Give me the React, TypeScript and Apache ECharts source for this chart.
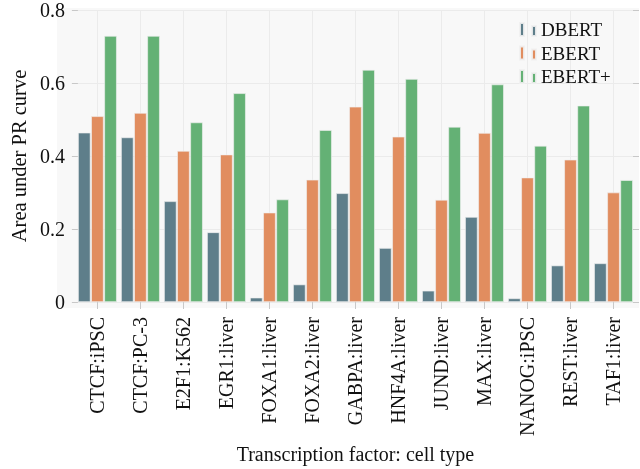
import React, { useEffect, useRef } from "react";
import * as echarts from "echarts";

const categories = [
  "CTCF:iPSC", "CTCF:PC-3", "E2F1:K562", "EGR1:liver", "FOXA1:liver", "FOXA2:liver",
  "GABPA:liver", "HNF4A:liver", "JUND:liver", "MAX:liver", "NANOG:iPSC", "REST:liver", "TAF1:liver",
];
const dbert = [0.464, 0.451, 0.276, 0.191, 0.012, 0.048, 0.298, 0.148, 0.031, 0.233, 0.010, 0.100, 0.106];
const ebert = [0.509, 0.518, 0.414, 0.404, 0.245, 0.335, 0.535, 0.453, 0.280, 0.463, 0.341, 0.390, 0.300];
const ebertPlus = [0.729, 0.729, 0.492, 0.572, 0.281, 0.471, 0.636, 0.611, 0.480, 0.596, 0.428, 0.538, 0.334];
const seriesNames = ["DBERT", "EBERT", "EBERT+"];
const colors = ["#5e7e8a", "#e18d5f", "#64b175"];

const FONT = "Liberation Serif";
const legendIcon = "path://M0,0h4v13h-4z M12,3h4v10h-4z";

export default function App() {
  const ref = useRef<HTMLDivElement>(null);
  useEffect(() => {
    if (!ref.current) return;
    const chart = echarts.init(ref.current, undefined, { renderer: "svg" });
    const tickStyle = { color: "#c8c8c8", width: 1 };
    const mkSeries = (name: string, data: number[], color: string) => ({
      name,
      type: "bar",
      data,
      xAxisIndex: 0,
      yAxisIndex: 0,
      barWidth: 12.5,
      barGap: "5%",
      itemStyle: { color, borderColor: "rgba(240,240,240,0.9)", borderWidth: 0.7 },
    });
    chart.setOption({
      animation: false,
      textStyle: { fontFamily: FONT, color: "#111" },
      grid: { left: 61, right: 5, top: 8, bottom: 161, containLabel: false },
      graphic: [
        {
          type: "rect",
          z: -10,
          silent: true,
          shape: { x: 57, y: 8, width: 582, height: 300 },
          style: { fill: "#f8f8f8" },
        },
      ],
      legend: {
        orient: "vertical",
        left: 519,
        top: 20,
        padding: 0,
        itemWidth: 16,
        itemHeight: 13,
        itemGap: 4.5,
        icon: legendIcon,
        data: seriesNames,
        textStyle: { fontFamily: FONT, fontSize: 19, color: "#111" },
      },
      xAxis: [
        {
          type: "category",
          data: categories,
          position: "bottom",
          axisLine: { show: false },
          axisTick: { show: true, alignWithLabel: true, length: 7, lineStyle: tickStyle },
          splitLine: { show: true, alignWithLabel: true, lineStyle: { color: "#ebebeb", width: 1 } },
          axisLabel: {
            rotate: 90,
            margin: 15,
            fontFamily: FONT,
            fontSize: 20,
            color: "#111",
            interval: 0,
          },
          name: "Transcription factor: cell type",
          nameLocation: "middle",
          nameGap: 142,
          nameTextStyle: { fontFamily: FONT, fontSize: 20, color: "#111" },
        },
        {
          type: "category",
          data: categories,
          position: "top",
          axisLine: { show: false },
          axisTick: { show: true, alignWithLabel: true, length: 7, lineStyle: tickStyle },
          axisLabel: { show: false },
          splitLine: { show: false },
        },
      ],
      yAxis: [
        {
          type: "value",
          min: 0,
          max: 0.8,
          interval: 0.2,
          offset: 4,
          position: "left",
          axisLine: { show: false },
          axisTick: { show: true, inside: true, length: 6, lineStyle: tickStyle },
          splitLine: { show: true, lineStyle: { color: "#ebebeb", width: 1 } },
          axisLabel: { margin: 7, fontFamily: FONT, fontSize: 20, color: "#111" },
          name: "Area under PR curve",
          nameLocation: "middle",
          nameGap: 38,
          nameTextStyle: { fontFamily: FONT, fontSize: 20.5, color: "#111" },
        },
        {
          type: "value",
          min: 0,
          max: 0.8,
          interval: 0.2,
          offset: 4,
          position: "right",
          axisLine: { show: false },
          axisTick: { show: true, inside: true, length: 6, lineStyle: tickStyle },
          splitLine: { show: false },
          axisLabel: { show: false },
        },
      ],
      series: [
        mkSeries(seriesNames[0], dbert, colors[0]),
        mkSeries(seriesNames[1], ebert, colors[1]),
        mkSeries(seriesNames[2], ebertPlus, colors[2]),
      ],
    });
    return () => chart.dispose();
  }, []);
  return <div ref={ref} style={{ width: 640, height: 469, position: "fixed", left: 0, top: 0 }} />;
}
